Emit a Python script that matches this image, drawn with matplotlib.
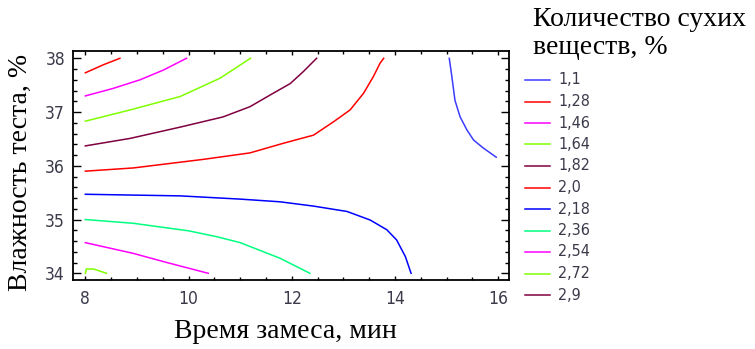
import matplotlib
matplotlib.use("Agg")
import matplotlib.pyplot as plt
from matplotlib.lines import Line2D
from matplotlib.ticker import MultipleLocator

# ---- data ----
levels = ["1,1", "1,28", "1,46", "1,64", "1,82", "2,0", "2,18", "2,36", "2,54", "2,72", "2,9"]
colors = ["#3c3cff", "#ff0000", "#ff00ff", "#80ff00", "#800040", "#ff0000",
          "#0000ff", "#00ff80", "#ff00ff", "#80ff00", "#800040"]

c110_x = [15.05, 15.10, 15.16, 15.26, 15.39, 15.52, 15.71, 15.96]
c110_y = [38.0, 37.66, 37.22, 36.91, 36.67, 36.48, 36.33, 36.16]
c128_x = [8.0, 8.35, 8.67]
c128_y = [37.73, 37.88, 38.0]
c146_x = [8.0, 8.54, 9.06, 9.51, 9.96]
c146_y = [37.30, 37.44, 37.60, 37.78, 38.0]
c164_x = [8.0, 8.87, 9.84, 10.61, 11.2]
c164_y = [36.83, 37.04, 37.29, 37.63, 38.0]
c182_x = [8.0, 8.87, 9.84, 10.67, 11.19, 11.64, 11.97, 12.22, 12.48]
c182_y = [36.37, 36.51, 36.72, 36.91, 37.10, 37.35, 37.53, 37.75, 38.0]
c200_x = [8.0, 8.93, 10.29, 11.19, 11.84, 12.42, 12.81, 13.13, 13.39, 13.58, 13.71, 13.78]
c200_y = [35.90, 35.96, 36.12, 36.24, 36.42, 36.57, 36.82, 37.04, 37.35, 37.66, 37.91, 38.0]
c218_x = [8.0, 9.84, 11.0, 11.77, 12.42, 13.07, 13.52, 13.84, 14.03, 14.20, 14.31]
c218_y = [35.47, 35.44, 35.38, 35.33, 35.25, 35.15, 34.99, 34.81, 34.62, 34.31, 34.0]
c236_x = [8.0, 8.93, 10.0, 10.55, 11.0, 11.77, 12.35]
c236_y = [35.0, 34.93, 34.79, 34.68, 34.57, 34.28, 34.0]
c254_x = [8.0, 8.93, 9.58, 10.38]
c254_y = [34.57, 34.37, 34.20, 34.0]
c272_x = [8.0, 8.02, 8.16, 8.41]
c272_y = [34.0, 34.08, 34.08, 34.0]
c290_x = []
c290_y = []

contours_x = [c110_x, c128_x, c146_x, c164_x, c182_x, c200_x, c218_x, c236_x, c254_x, c272_x, c290_x]
contours_y = [c110_y, c128_y, c146_y, c164_y, c182_y, c200_y, c218_y, c236_y, c254_y, c272_y, c290_y]

x_ticks = [8, 10, 12, 14, 16]
y_ticks = [34, 35, 36, 37, 38]

# ---- figure ----
W, H = 755, 349
fig = plt.figure(figsize=(W / 100, H / 100), dpi=100)
L, R, T, B = 73.3, 509.3, 50.5, 280.0
ax = fig.add_axes([L / W, 1 - B / H, (R - L) / W, (B - T) / H])

for xs, ys, col in zip(contours_x, contours_y, colors):
    if xs:
        ax.plot(xs, ys, color=col, lw=1.1)

ax.set_xlim(7.767, 16.213)
ax.set_ylim(33.875, 38.145)

narrow = ["Liberation Sans Narrow", "DejaVu Sans"]
serif = ["Liberation Serif", "DejaVu Serif"]
tick_col = "#3a3a4a"

ax.set_xticks(x_ticks)
ax.set_yticks(y_ticks)
ax.xaxis.set_minor_locator(MultipleLocator(0.5))
ax.yaxis.set_minor_locator(MultipleLocator(0.2))
ax.tick_params(axis="both", which="both", direction="in", top=True, right=True,
               colors="black", labelcolor=tick_col, width=1.0)
ax.tick_params(axis="y", which="major", length=6, pad=6)
ax.tick_params(axis="y", which="minor", length=3)
ax.tick_params(axis="x", which="major", length=3, pad=7)
ax.tick_params(axis="x", which="minor", length=2)
for lab in ax.get_xticklabels() + ax.get_yticklabels():
    lab.set_fontfamily(narrow)
    lab.set_fontstretch("condensed")
    lab.set_fontsize(12.5)
for sp in ax.spines.values():
    sp.set_linewidth(1.3)

fig.text(285 / W, 1 - 331 / H, "Время замеса, мин", family=serif, fontsize=20,
         ha="center", va="center")
fig.text(20 / W, 1 - 172 / H, "Влажность теста, %", family=serif, fontsize=20,
         ha="center", va="center", rotation=90)

# legend title
fig.text(533 / W, 1 - 19 / H, "Количество сухих", family=serif, fontsize=20,
         ha="left", va="center")
fig.text(533 / W, 1 - 47 / H, "веществ, %", family=serif, fontsize=20,
         ha="left", va="center")

# legend entries
for i, (lab, col) in enumerate(zip(levels, colors)):
    y = 1 - (80 + i * 21.5) / H
    fig.add_artist(Line2D([525 / W, 550 / W], [y, y], color=col, lw=1.1))
    fig.text(558 / W, y, lab, family=narrow, fontstretch="condensed", fontsize=11.5,
             color=tick_col, ha="left", va="center")

fig.savefig("out.png", dpi=100)
